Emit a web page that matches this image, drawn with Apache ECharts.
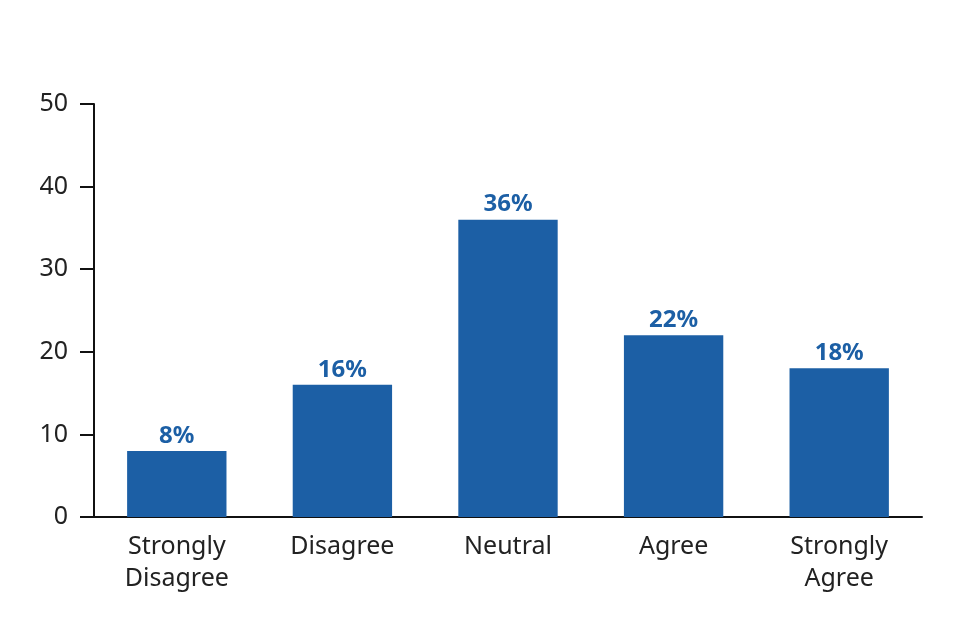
<!DOCTYPE html>
<html>
<head>
<meta charset="utf-8">
<script src="https://cdn.jsdelivr.net/npm/echarts@6/dist/echarts.min.js"></script>
<style>
html,body{margin:0;padding:0;background:#fff;}
#chart{width:967px;height:626px;}
</style>
</head>
<body>
<div id="chart"></div>
<script>
const categories = ['Strongly\nDisagree', 'Disagree', 'Neutral', 'Agree', 'Strongly\nAgree'];
const values = [8, 16, 36, 22, 18];
const yTicks = [0, 10, 20, 30, 40, 50];

const chart = echarts.init(document.getElementById('chart'));
chart.setOption({
  animation: false,
  backgroundColor: '#fff',
  grid: { left: 94, right: 45, top: 104, bottom: 109, containLabel: false },
  xAxis: {
    type: 'category',
    data: categories,
    axisLine: { show: true, lineStyle: { color: '#111', width: 2 } },
    axisTick: { show: false },
    axisLabel: { color: '#222', fontFamily: 'Noto Sans', fontSize: 25, lineHeight: 32, margin: 14, interval: 0 }
  },
  yAxis: {
    type: 'value',
    min: yTicks[0],
    max: yTicks[yTicks.length - 1],
    interval: 10,
    splitLine: { show: false },
    axisLine: { show: true, lineStyle: { color: '#111', width: 2 } },
    axisTick: { show: true, length: 14, lineStyle: { color: '#111', width: 2 } },
    axisLabel: { color: '#222', fontFamily: 'Noto Sans', fontSize: 25, margin: 26 }
  },
  series: [{
    type: 'bar',
    data: values,
    barWidth: '60%',
    itemStyle: { color: '#1c5fa5' },
    label: {
      show: true,
      position: 'top',
      formatter: '{c}%',
      color: '#1c5fa5',
      fontFamily: 'Noto Sans',
      fontWeight: 'bold',
      fontSize: 24,
      distance: 3
    }
  }]
});
</script>
</body>
</html>
